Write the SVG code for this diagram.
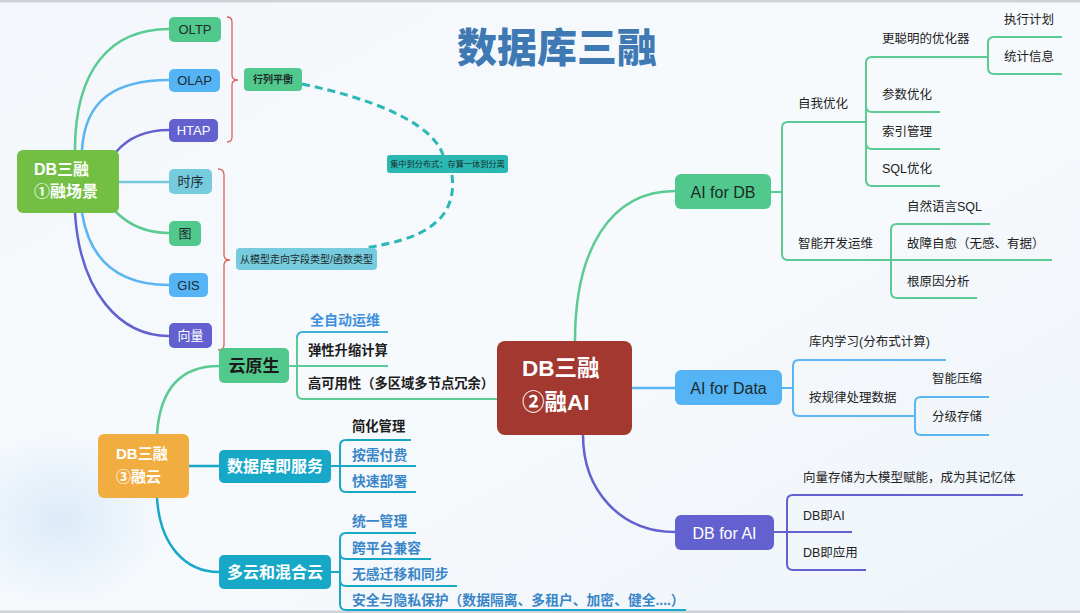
<svg xmlns="http://www.w3.org/2000/svg" width="1080" height="613" viewBox="0 0 1080 613">
<defs>
<linearGradient id="bg" x1="0" y1="0" x2="1" y2="1">
<stop offset="0" stop-color="#f3f7fb"/>
<stop offset="0.5" stop-color="#f7fafd"/>
<stop offset="1" stop-color="#eef4f9"/>
</linearGradient>
<radialGradient id="blob" cx="0.5" cy="0.5" r="0.5">
<stop offset="0" stop-color="#dcebf8"/>
<stop offset="1" stop-color="#dcebf8" stop-opacity="0"/>
</radialGradient>
<style>
text{font-family:"Liberation Sans","Noto Sans CJK SC",sans-serif;dominant-baseline:central}
.t{font-size:12.5px;fill:#222}
.tb{font-size:13.3px;fill:#1c1c1c;font-weight:bold}
.tblue{font-size:13.8px;fill:#3a86c8;font-weight:bold}
.small{font-size:10px;fill:#1c2a2a;font-weight:bold}
.chip{font-size:13px;fill:#1d2b30}
.chipw{font-size:13px;fill:#ffffff}
.big{font-size:16px;fill:#1c2a2a}
.bigw{font-size:16px;fill:#ffffff}
.c{fill:none;stroke-width:2.5;stroke-linecap:round}
.u{fill:none;stroke-width:2}
.g{stroke:#5bcb93}
.b{stroke:#5ab5f2}
.p{stroke:#6261cf}
.lt{stroke:#76c9dc}
.tl{stroke:#17a8c8}
.br{fill:none;stroke:#d9625c;stroke-width:1.3}
.dash{fill:none;stroke:#2db7b7;stroke-width:3;stroke-dasharray:8 5}
</style>
</defs>
<rect width="1080" height="613" fill="url(#bg)"/>
<ellipse cx="60" cy="520" rx="110" ry="90" fill="url(#blob)"/>
<rect x="0" y="0" width="1080" height="2.5" fill="#cfd2d6"/>
<rect x="0" y="610.5" width="1080" height="2.5" fill="#cfd2d6"/>

<text id="title" x="457" y="45" style="font-size:40px;font-weight:900;fill:#3e79b4;font-family:'Noto Sans CJK SC',sans-serif">数据库三融</text>

<g id="connectors">
<path class="c g" d="M75,150 C75,70 110,29 169,29"/>
<path class="c b" d="M82,150 C85,100 115,80 169,80"/>
<path class="c p" d="M116,152 C128,138 145,130 169,130"/>
<path class="c lt" d="M119,182 L169,182"/>
<path class="c g" d="M116,212 C130,226 148,233 169,233"/>
<path class="c b" d="M82,213 C90,262 120,285 169,285"/>
<path class="c p" d="M75,213 C80,292 120,336 169,336"/>
<path class="br" d="M227,17 Q232,17 232,22 L232,75 Q232,80 238,80 Q232,80 232,85 L232,137 Q232,142 227,142"/>
<path class="br" d="M218,169 Q224,169 224,175 L224,255 Q224,260 230,260 Q224,260 224,265 L224,345 Q224,350 218,350"/>
<path class="dash" d="M302,84 C370,98 432,122 443,155"/>
<path class="dash" d="M452,175 C458,222 420,240 364,248"/>
<path class="c g" d="M575,341 C575,250 610,191 675,191"/>
<path class="c b" d="M632,388 L675,388"/>
<path class="c p" d="M583,435 C583,490 620,532 675,532"/>
<path class="u g" d="M771,192 L782,192"/>
<path class="u g" d="M866,122 L788,122 Q782,122 782,128 L782,254 Q782,260 788,260 L1052,260"/>
<path class="u g" d="M988,57 L872,57 Q866,57 866,63 L866,180 Q866,186 872,186 L940,186"/>
<path class="u g" d="M866,106 Q866,112 872,112 L940,112"/>
<path class="u g" d="M866,143 Q866,149 872,149 L940,149"/>
<path class="u g" d="M1062,37 L994,37 Q988,37 988,43 L988,68 Q988,74 994,74 L1062,74"/>
<path class="u g" d="M990,224 L897,224 Q891,224 891,230 L891,292 Q891,298 897,298 L977,298"/>
<path class="u b" d="M782,388 L793,388"/>
<path class="u b" d="M946,360 L799,360 Q793,360 793,366 L793,410 Q793,416 799,416 L915,416"/>
<path class="u b" d="M989,397 L921,397 Q915,397 915,403 L915,429 Q915,435 921,435 L989,435"/>
<path class="u p" d="M774,532 L852,532"/>
<path class="u p" d="M1023,495 L793,495 Q787,495 787,501 L787,564 Q787,570 793,570 L866,570"/>
<path class="c g" d="M157,434 C160,390 180,366 219,366"/>
<path class="c tl" d="M189,466 L219,466"/>
<path class="c tl" d="M157,498 C160,545 185,572 219,572"/>
<path class="u g" d="M289,366 L388,366"/>
<path class="u g" d="M297,338 L297,393 Q297,399 303,399 L498,399"/>
<path class="u" stroke="#3cb2dc" d="M388,332 L303,332 Q297,332 297,338"/>
<path class="u tl" d="M331,466 L416,466"/>
<path class="u tl" d="M411,440 L346,440 Q340,440 340,446 L340,486 Q340,492 346,492 L416,492"/>
<path class="u tl" d="M331,572 L340,572"/>
<path class="u tl" d="M416,533 L346,533 Q340,533 340,539 L340,604 Q340,610 346,610 L686,610"/>
<path class="u tl" d="M340,553 Q340,559 346,559 L431,559"/>
<path class="u tl" d="M340,580 Q340,586 346,586 L457,586"/>
</g>

<g id="n-scene">
<rect x="17" y="150" width="102" height="63" rx="6" fill="#72bf44"/>
<text x="34" y="169" style="font-size:16px;font-weight:bold;fill:#fff">DB三融</text>
<text x="34" y="191" style="font-size:16px;font-weight:bold;fill:#fff">①融场景</text>
</g>
<g id="n-oltp"><rect x="169" y="17" width="52" height="25" rx="5" fill="#52c98c"/><text class="chip" x="195" y="29.5" text-anchor="middle">OLTP</text></g>
<g id="n-olap"><rect x="169" y="69" width="51" height="23" rx="5" fill="#55b4f6"/><text class="chip" x="194.5" y="80.5" text-anchor="middle">OLAP</text></g>
<g id="n-htap"><rect x="169" y="119" width="49" height="23" rx="5" fill="#6261cf"/><text class="chipw" x="193.5" y="130.5" text-anchor="middle">HTAP</text></g>
<g id="n-ts"><rect x="169" y="169" width="43" height="25" rx="5" fill="#77cbde"/><text class="chip" x="190.5" y="181.5" text-anchor="middle">时序</text></g>
<g id="n-graph"><rect x="169" y="221" width="32" height="25" rx="5" fill="#52c98c"/><text class="chip" x="185" y="233.5" text-anchor="middle">图</text></g>
<g id="n-gis"><rect x="169" y="273" width="39" height="24" rx="5" fill="#55b4f6"/><text class="chip" x="188.5" y="285" text-anchor="middle">GIS</text></g>
<g id="n-vec"><rect x="169" y="323" width="43" height="25" rx="5" fill="#6261cf"/><text class="chipw" x="190.5" y="335.5" text-anchor="middle">向量</text></g>
<g id="n-rowcol"><rect x="244" y="68" width="58" height="23" rx="4" fill="#52c98c"/><text class="small" x="273" y="79.5" text-anchor="middle">行列平衡</text></g>
<g id="n-model"><rect x="236" y="248" width="141" height="22" rx="4" fill="#77cbde"/><text class="small" x="306.5" y="259" text-anchor="middle" style="font-weight:normal">从模型走向字段类型/函数类型</text></g>
<g id="n-dist"><rect x="387" y="155" width="121" height="18" rx="3" fill="#2bb8b3"/><text x="447.5" y="164" text-anchor="middle" style="font-size:8.2px;fill:#15302f">集中到分布式：存算一体到分离</text></g>

<g id="n-center">
<rect x="497" y="341" width="135" height="94" rx="8" fill="#a2382f"/>
<text x="522" y="368" style="font-size:22.5px;font-weight:bold;fill:#fff">DB三融</text>
<text x="522" y="402" style="font-size:22.5px;font-weight:bold;fill:#fff">②融AI</text>
</g>

<g id="n-aifordb">
<rect x="675" y="174" width="96" height="35" rx="6" fill="#52c98c"/>
<text class="big" x="723" y="192" text-anchor="middle">AI for DB</text>
<text class="t" x="798" y="104">自我优化</text>
<text class="t" x="882" y="39">更聪明的优化器</text>
<text class="t" x="1004" y="20">执行计划</text>
<text class="t" x="1004" y="57">统计信息</text>
<text class="t" x="882" y="95">参数优化</text>
<text class="t" x="882" y="132">索引管理</text>
<text class="t" x="882" y="169">SQL优化</text>
<text class="t" x="798" y="244">智能开发运维</text>
<text class="t" x="907" y="207">自然语言SQL</text>
<text class="t" x="907" y="244">故障自愈（无感、有据）</text>
<text class="t" x="907" y="282">根原因分析</text>
</g>

<g id="n-aifordata">
<rect x="675" y="370" width="107" height="35" rx="6" fill="#55b4f6"/>
<text class="big" x="728.5" y="388" text-anchor="middle">AI for Data</text>
<text class="t" x="809" y="342">库内学习(分布式计算)</text>
<text class="t" x="809" y="398">按规律处理数据</text>
<text class="t" x="932" y="379">智能压缩</text>
<text class="t" x="932" y="417">分级存储</text>
</g>

<g id="n-dbforai">
<rect x="675" y="515" width="99" height="35" rx="6" fill="#6261cf"/>
<text class="bigw" x="724.5" y="533" text-anchor="middle">DB for AI</text>
<text class="t" x="803" y="478">向量存储为大模型赋能，成为其记忆体</text>
<text class="t" x="803" y="516">DB即AI</text>
<text class="t" x="803" y="553">DB即应用</text>
</g>

<g id="n-cloud">
<rect x="98" y="434" width="91" height="64" rx="6" fill="#f1ad3f"/>
<text x="116" y="453" style="font-size:15px;font-weight:bold;fill:#fff">DB三融</text>
<text x="116" y="476" style="font-size:15px;font-weight:bold;fill:#fff">③融云</text>
</g>

<g id="n-native">
<rect x="219" y="348" width="70" height="35" rx="5" fill="#52c98c"/>
<text x="254" y="366" text-anchor="middle" style="font-size:17px;font-weight:bold;fill:#1a1a1a">云原生</text>
<text x="310" y="320" style="font-size:14px;font-weight:bold;fill:#3f90dc">全自动运维</text>
<text class="tb" x="308" y="350">弹性升缩计算</text>
<text class="tb" x="308" y="383">高可用性（多区域多节点冗余）</text>
</g>

<g id="n-dbaas">
<rect x="219" y="450" width="112" height="33" rx="5" fill="#17a8c8"/>
<text x="275" y="466.5" text-anchor="middle" style="font-size:16px;font-weight:bold;fill:#fff">数据库即服务</text>
<text class="tb" x="352" y="426">简化管理</text>
<text class="tblue" x="352" y="455">按需付费</text>
<text class="tblue" x="352" y="481">快速部署</text>
</g>

<g id="n-multicloud">
<rect x="219" y="555" width="112" height="34" rx="5" fill="#17a8c8"/>
<text x="275" y="572" text-anchor="middle" style="font-size:16px;font-weight:bold;fill:#fff">多云和混合云</text>
<text class="tblue" x="352" y="521">统一管理</text>
<text class="tblue" x="352" y="548">跨平台兼容</text>
<text class="tblue" x="352" y="574">无感迁移和同步</text>
<text class="tblue" x="352" y="600">安全与隐私保护（数据隔离、多租户、加密、健全....）</text>
</g>
</svg>
